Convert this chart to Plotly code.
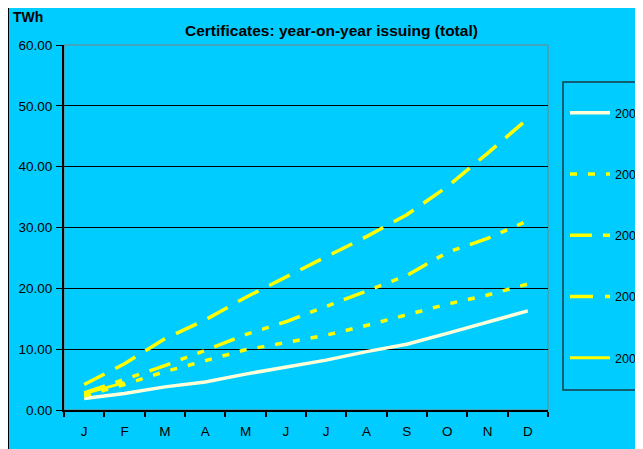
import plotly.graph_objects as go

months = ["J", "F", "M", "A", "M", "J", "J", "A", "S", "O", "N", "D"]
y2002 = [1.9, 2.7, 3.8, 4.6, 5.9, 7.0, 8.2, 9.6, 10.8, 12.6, 14.5, 16.3]
y2003 = [2.3, 4.2, 6.3, 8.1, 9.9, 11.1, 12.3, 13.9, 15.7, 17.4, 18.9, 20.7]
y2004 = [2.8, 5.0, 7.3, 9.8, 12.4, 14.5, 17.0, 19.5, 22.1, 25.9, 28.2, 31.1]
y2005 = [4.2, 7.6, 11.7, 14.8, 18.5, 21.9, 25.2, 28.5, 32.1, 36.7, 42.2, 47.9]
y2006 = [2.7, 4.5]
series_names = ["2002", "2003", "2004", "2005", "2006"]
yticks = [0, 10, 20, 30, 40, 50, 60]

xi = list(range(len(months)))

# page body margin offsets the figure by 8px; work in screen px and convert
OFF = 8
W, H = 635, 441
PL, PR, PT, PB = 64, 548, 45, 410  # plot area in screen px


def px(xs):
    return (xs - PL) / (PR - PL)


def py(ys):
    return (PB - ys) / (PB - PT)


styles = {
    "2002": dict(color="#FFFFD8", width=3.5, dash="solid"),
    "2003": dict(color="#FFFF00", width=3.5, dash="7px,11px"),
    "2004": dict(color="#FFFF00", width=3.5, dash="22px,11px,7px,11px,7px,11px"),
    "2005": dict(color="#FFFF00", width=3.5, dash="23px,12px"),
    "2006": dict(color="#FFFF00", width=3, dash="solid"),
}
data = {"2002": y2002, "2003": y2003, "2004": y2004, "2005": y2005, "2006": y2006}

fig = go.Figure()
for name in series_names:
    vals = data[name]
    fig.add_trace(go.Scatter(
        x=xi[:len(vals)], y=vals, mode="lines", name=name,
        legendgroup=name, line=styles[name],
    ))

CYAN = "#00CCFF"
fig.update_layout(
    width=W, height=H,
    margin=dict(l=PL - OFF, r=W - (PR - OFF), t=PT - OFF, b=H - (PB - OFF)),
    paper_bgcolor="white",
    plot_bgcolor=CYAN,
    font=dict(family="Liberation Sans, Arial", size=12, color="black"),
    showlegend=True,
    legend=dict(
        xref="container", yref="container",
        x=(565 - OFF) / W, xanchor="left", y=1 - (98 - OFF) / H, yanchor="top",
        bgcolor="rgba(0,0,0,0)", borderwidth=0,
        font=dict(size=12.5, color="black"),
        tracegroupgap=42, itemwidth=40, maxheight=420,
    ),
    shapes=[
        dict(type="rect", xref="paper", yref="paper",
             x0=px(8), x1=1.5, y0=-0.3, y1=py(7),
             fillcolor=CYAN, line=dict(color="black", width=2), layer="below"),
        dict(type="rect", xref="paper", yref="paper",
             x0=0, x1=1, y0=0, y1=1,
             line=dict(color="#808080", width=1), layer="below"),
        dict(type="rect", xref="paper", yref="paper",
             x0=px(563), x1=1.5, y0=py(390), y1=py(82),
             line=dict(color="#1a3a48", width=1.5), layer="below"),
    ],
    annotations=[
        dict(text="<b>Certificates: year-on-year issuing (total)</b>", xref="paper", yref="paper",
             x=px(331), y=py(31), xanchor="center", yanchor="middle",
             showarrow=False, font=dict(size=15.5)),
        dict(text="<b>TWh</b>", xref="paper", yref="paper",
             x=px(11), y=py(17), xanchor="left", yanchor="middle",
             showarrow=False, font=dict(size=14)),
    ],
)

fig.update_xaxes(
    range=[-0.5, 11.5], automargin=False,
    tickmode="array", tickvals=xi, ticktext=months,
    ticks="", showgrid=False, zeroline=False,
    showline=True, linecolor="black", linewidth=2,
    tickfont=dict(size=13.5), ticklabelstandoff=8,
    minor=dict(tickmode="array", tickvals=[i - 0.5 for i in range(len(months) + 1)],
               ticks="outside", ticklen=5, tickcolor="black", tickwidth=2, showgrid=False),
)
fig.update_yaxes(
    range=[0, 60], automargin=False, tickmode="array", tickvals=yticks,
    ticktext=[f"{v:.2f}" for v in yticks],
    ticks="outside", ticklen=6, tickcolor="black", tickwidth=1,
    showgrid=True, gridcolor="black", gridwidth=1,
    zeroline=False, showline=True, linecolor="black", linewidth=2,
    tickfont=dict(size=13.5), ticklabelstandoff=1,
)

fig.write_html("out.html")
